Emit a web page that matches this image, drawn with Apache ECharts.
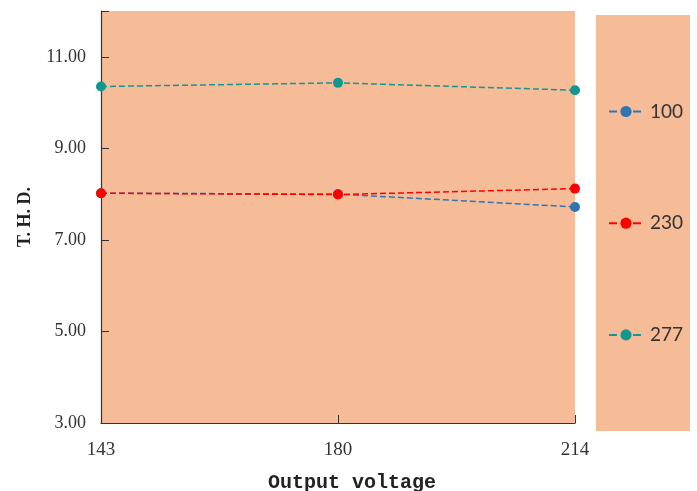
<!DOCTYPE html>
<html>
<head>
<meta charset="utf-8">
<script src="https://cdn.jsdelivr.net/npm/echarts@6/dist/echarts.min.js"></script>
<style>html,body{margin:0;padding:0;background:#fff}#c{width:697px;height:491px}</style>
</head>
<body>
<div id="c"></div>
<script>
var categories = ['143', '180', '214'];
var seriesNames = ['100', '230', '277'];
var values100 = [8.02, 8.00, 7.72];
var values230 = [8.02, 7.99, 8.12];
var values277 = [10.35, 10.43, 10.27];
var yTicks = [3, 5, 7, 9, 11];

var colors = ['#2E75B6', '#FF0000', '#13968E'];
var bg = '#F5BC97';
var chart = echarts.init(document.getElementById('c'));

function mk(name, data, color) {
  return {
    name: name, type: 'line', data: data,
    symbol: 'circle', symbolSize: 10,
    itemStyle: { color: color },
    lineStyle: { color: color, type: 'dashed', width: 1.5 },
    emphasis: { disabled: true }
  };
}

chart.setOption({
  animation: false,
  grid: { left: 101, right: 122, top: 11, bottom: 68, show: true, backgroundColor: bg, borderWidth: 0, containLabel: false, outerBoundsMode: 'none' },
  graphic: [{
    type: 'rect', left: 596, top: 15, z: -1,
    shape: { width: 94, height: 416 },
    style: { fill: bg }
  }],
  legend: {
    orient: 'vertical', left: 603, top: 97,
    itemWidth: 34, itemHeight: 14, itemGap: 92.7,
    data: seriesNames,
    textStyle: { fontFamily: 'Lato', fontSize: 19, color: '#333', padding: [0, 0, 0, 2] }
  },
  xAxis: {
    type: 'category', data: categories, boundaryGap: false,
    name: 'Output voltage', nameLocation: 'middle', nameGap: 50,
    nameTextStyle: { fontFamily: 'Liberation Mono', fontWeight: 'bold', fontSize: 20, color: '#222', padding: [0, 0, 0, 28] },
    axisLine: { lineStyle: { color: '#333', width: 1.2 } },
    axisTick: { inside: true, length: 8, alignWithLabel: true, lineStyle: { color: '#333' } },
    axisLabel: { fontFamily: 'Liberation Serif', fontSize: 19, color: '#333', margin: 18 },
    splitLine: { show: false }
  },
  yAxis: {
    type: 'value', min: 3, max: 12, interval: 2,
    name: 'T. H. D.', nameLocation: 'middle', nameGap: 67, nameRotate: 90,
    nameTextStyle: { fontFamily: 'Liberation Serif', fontWeight: 'bold', fontSize: 18, color: '#222' },
    axisLine: { show: true, lineStyle: { color: '#333', width: 1.2 } },
    axisTick: { show: true, inside: true, length: 8, lineStyle: { color: '#333' } },
    axisLabel: {
      fontFamily: 'Liberation Serif', fontSize: 18, color: '#333', margin: 15,
      formatter: function (v) { return yTicks.indexOf(v) >= 0 ? v.toFixed(2) : ''; }
    },
    splitLine: { show: false }
  },
  series: [
    mk(seriesNames[0], values100, colors[0]),
    mk(seriesNames[1], values230, colors[1]),
    mk(seriesNames[2], values277, colors[2])
  ]
});
</script>
</body>
</html>
